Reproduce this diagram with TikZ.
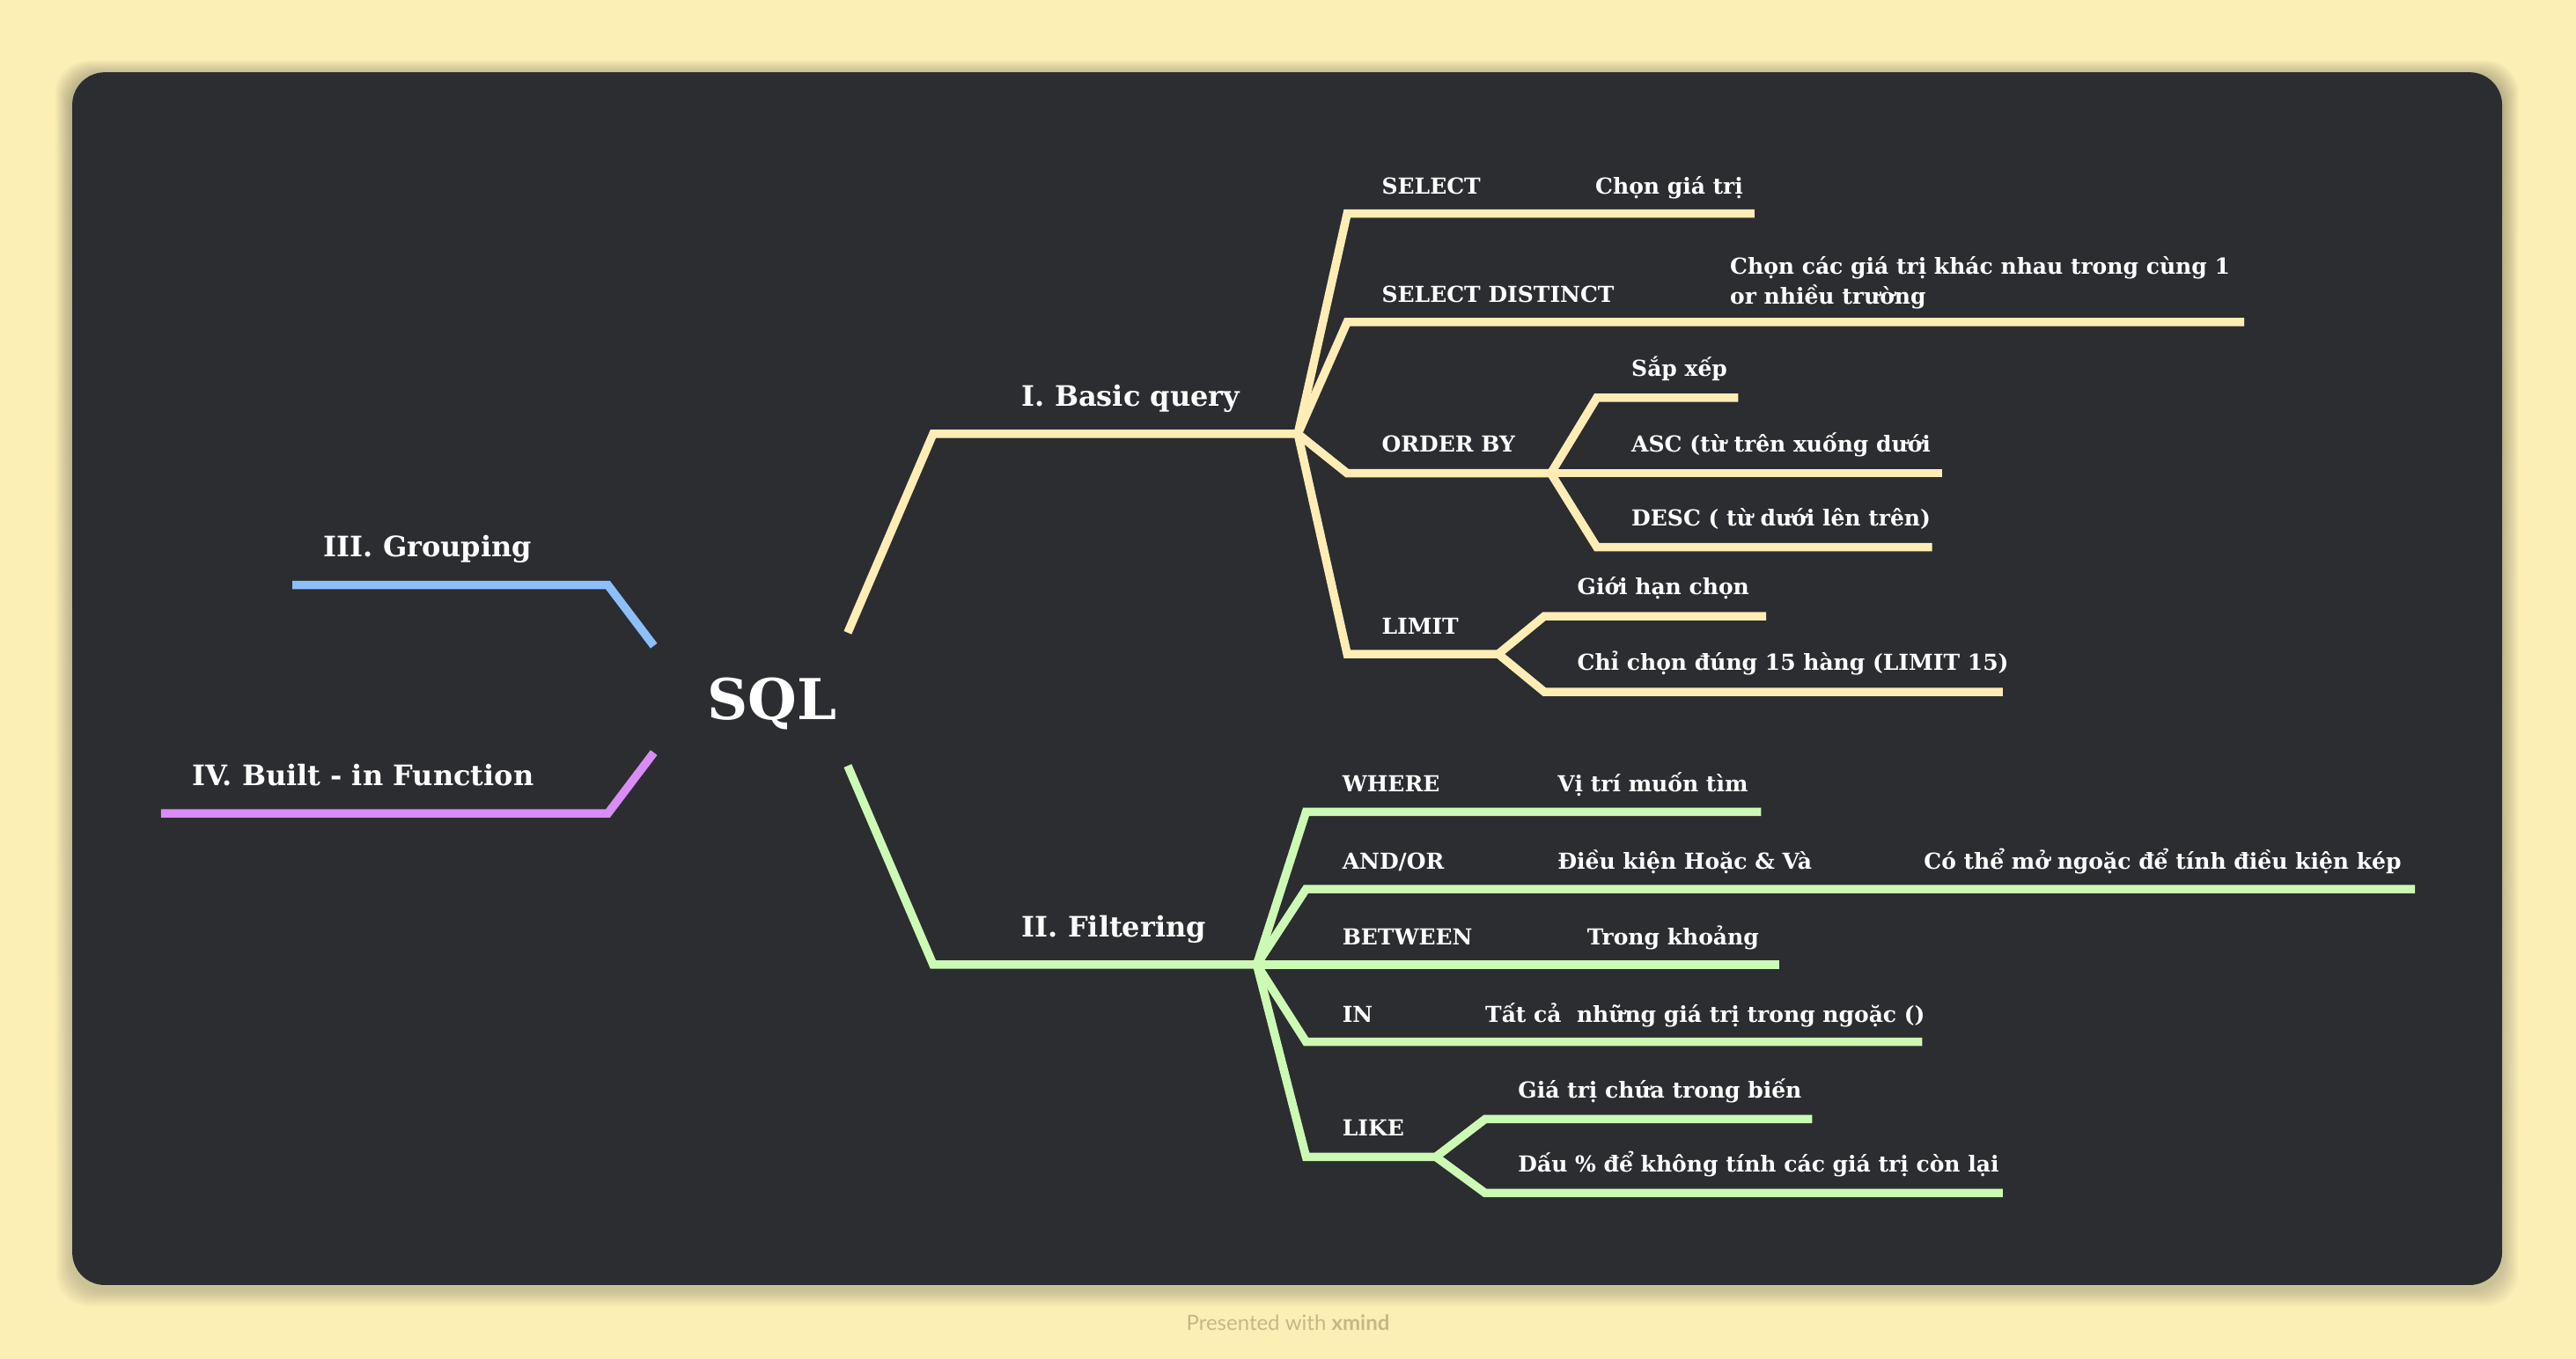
\documentclass[tikz,border=0pt]{standalone}
\usepackage{fontspec}
\setmainfont{DejaVu Serif}
\newfontfamily\uifont{Lato}
\definecolor{bgc}{HTML}{FCEFB5}
\definecolor{card}{HTML}{2C2D31}
\definecolor{yel}{HTML}{FFEDB5}
\definecolor{grn}{HTML}{CCFAB4}
\definecolor{blu}{HTML}{8CC0FA}
\definecolor{pur}{HTML}{D98CF6}
\definecolor{foot}{HTML}{C4B888}
\definecolor{shade}{HTML}{8A7A40}
\begin{document}
\begin{tikzpicture}[x=1.8661pt,y=-1.8670pt,
  branch/.style={line width=9.5pt, line join=miter},
  yb/.style={branch, draw=yel},
  gb/.style={branch, draw=grn},
  mainlbl/.style={font=\fontsize{32}{38}\selectfont\bfseries, text=white, anchor=base west, inner sep=0pt},
  sublbl/.style={font=\fontsize{25}{34}\selectfont\bfseries, text=white, anchor=base west, inner sep=0pt},
]
\useasboundingbox[fill=bgc] (0,0) rectangle (1568,827);
% soft shadow
\foreach \d in {1,2,...,10}{
  \fill[shade, opacity=0.018, rounded corners=37pt] (44-\d,44-\d+3) rectangle (1523+\d,782+\d+3);
}
\fill[card, rounded corners=37pt] (44,44) rectangle (1523,782);

% root
\node[font=\fontsize{64}{70}\selectfont\bfseries, text=white, inner sep=0pt] (sql) at (470,428) {SQL};

% main labels
\node[mainlbl] (basic) at (622,247) {I. Basic query};
\node[mainlbl] (filt) at (622,570) {II. Filtering};
\node[mainlbl] (grp) at (197,339) {III. Grouping};
\node[mainlbl] (bif) at (117,478) {IV. Built - in Function};

% main connectors
\coordinate (b0) at (516,385); \coordinate (b1) at (568,264); \coordinate (bj) at (790,264);
\draw[yb] (b0) -- (b1) -- (bj);
\coordinate (f0) at (516,466); \coordinate (f1) at (568,587); \coordinate (fj) at (765,587);
\draw[gb] (f0) -- (f1) -- (fj);
\coordinate (g0) at (398,393); \coordinate (g1) at (370,356); \coordinate (g2) at (178,356);
\draw[branch, draw=blu] (g0) -- (g1) -- (g2);
\coordinate (i0) at (398,458); \coordinate (i1) at (370,495); \coordinate (i2) at (98,495);
\draw[branch, draw=pur] (i0) -- (i1) -- (i2);

% ---------- Basic query ----------
\node[sublbl] (sel) at (841,118) {SELECT};
\node[sublbl] (selv) at (971,118) {Chọn giá trị};
\coordinate (s1a) at (820,130); \coordinate (s1b) at (1068,130);
\draw[yb] (bj) -- (s1a) -- (s1b);

\node[sublbl] (dist) at (841,184) {SELECT DISTINCT};
\node[sublbl, align=left, anchor=south west] (distv) at (1053,188) {Chọn các giá trị khác nhau trong cùng 1\\or nhiều trường};
\coordinate (s2a) at (820,196); \coordinate (s2b) at (1366,196);
\draw[yb] (bj) -- (s2a) -- (s2b);

\node[sublbl] (ord) at (841,275) {ORDER BY};
\coordinate (s3a) at (820,288); \coordinate (oj) at (944,288);
\draw[yb] (bj) -- (s3a) -- (oj);
\node[sublbl] (sap) at (993,229) {Sắp xếp};
\coordinate (o1a) at (972,242); \coordinate (o1b) at (1058,242);
\draw[yb] (oj) -- (o1a) -- (o1b);
\node[sublbl] (asc) at (993,275) {ASC (từ trên xuống dưới};
\coordinate (o2b) at (1182,288);
\draw[yb] (oj) -- (o2b);
\node[sublbl] (desc) at (993,320) {DESC ( từ dưới lên trên)};
\coordinate (o3a) at (972,333); \coordinate (o3b) at (1176,333);
\draw[yb] (oj) -- (o3a) -- (o3b);

\node[sublbl] (lim) at (841,386) {LIMIT};
\coordinate (s4a) at (820,398); \coordinate (lj) at (912,398);
\draw[yb] (bj) -- (s4a) -- (lj);
\node[sublbl] (gh) at (960,362) {Giới hạn chọn};
\coordinate (l1a) at (940,375); \coordinate (l1b) at (1075,375);
\draw[yb] (lj) -- (l1a) -- (l1b);
\node[sublbl] (cc) at (960,408) {Chỉ chọn đúng 15 hàng (LIMIT 15)};
\coordinate (l2a) at (940,421); \coordinate (l2b) at (1219,421);
\draw[yb] (lj) -- (l2a) -- (l2b);

% ---------- Filtering ----------
\node[sublbl] (wh) at (817,482) {WHERE};
\node[sublbl] (whv) at (948,482) {Vị trí muốn tìm};
\coordinate (w1a) at (795,494); \coordinate (w1b) at (1072,494);
\draw[gb] (fj) -- (w1a) -- (w1b);

\node[sublbl] (ao) at (817,529) {AND/OR};
\node[sublbl] (aov) at (948,529) {Điều kiện Hoặc \& Và};
\node[sublbl] (aov2) at (1171,529) {Có thể mở ngoặc để tính điều kiện kép};
\coordinate (w2a) at (795,541); \coordinate (w2b) at (1470,541);
\draw[gb] (fj) -- (w2a) -- (w2b);

\node[sublbl] (bt) at (817,575) {BETWEEN};
\node[sublbl] (btv) at (966,575) {Trong khoảng};
\coordinate (w3b) at (1083,587);
\draw[gb] (fj) -- (w3b);

\node[sublbl] (in) at (817,622) {IN};
\node[sublbl] (inv) at (904,622) {Tất cả\ \ những giá trị trong ngoặc ()};
\coordinate (w4a) at (795,634); \coordinate (w4b) at (1170,634);
\draw[gb] (fj) -- (w4a) -- (w4b);

\node[sublbl] (lk) at (817,691) {LIKE};
\coordinate (w5a) at (795,704); \coordinate (kj) at (874,704);
\draw[gb] (fj) -- (w5a) -- (kj);
\node[sublbl] (lk1) at (924,668) {Giá trị chứa trong biến};
\coordinate (k1a) at (904,681); \coordinate (k1b) at (1103,681);
\draw[gb] (kj) -- (k1a) -- (k1b);
\node[sublbl] (lk2) at (924,713) {Dấu \% để không tính các giá trị còn lại};
\coordinate (k2a) at (904,726); \coordinate (k2b) at (1219,726);
\draw[gb] (kj) -- (k2a) -- (k2b);

% footer
\node[font=\uifont\fontsize{24}{27}\selectfont, text=foot, inner sep=0pt] (foot) at (784,805) {Presented with \textbf{xmind}};
\end{tikzpicture}
\end{document}
